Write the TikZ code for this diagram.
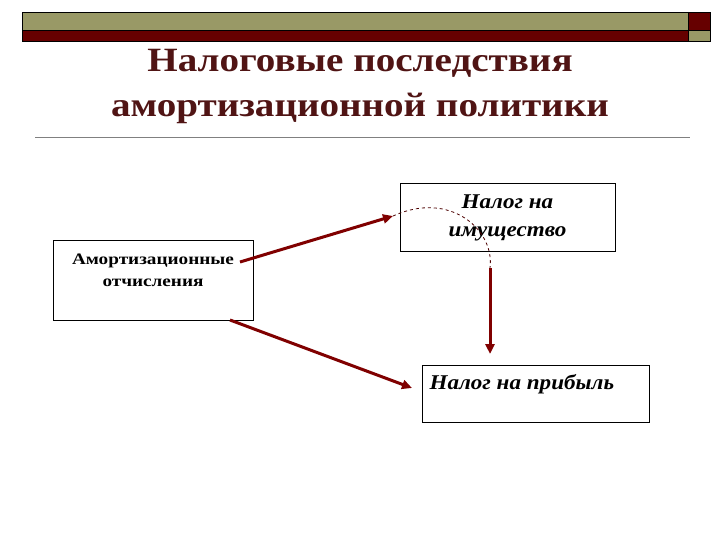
\documentclass[tikz,border=0pt]{standalone}
\usepackage{fontspec}
\setmainfont{Liberation Serif}
\usetikzlibrary{arrows.meta}
\definecolor{olive}{RGB}{153,153,102}
\definecolor{dred}{RGB}{102,0,0}
\definecolor{tred}{RGB}{80,20,20}
\definecolor{ared}{RGB}{128,0,0}
\begin{document}
\begin{tikzpicture}[x=1pt,y=-1pt,
  box/.style={draw,line width=1pt,inner sep=0pt},
  arr/.style={draw=ared,line width=3pt,-{Triangle[length=10pt,width=9pt]}},
  lbl/.style={font=\bfseries\itshape\fontsize{21}{28}\selectfont\addfontfeature{FakeStretch=1.1},align=center}]
\useasboundingbox (0,0) rectangle (720,540);
\fill[white] (0,0) rectangle (720,540);
\fill[olive] (22,12) rectangle (688,30);
\fill[dred] (22,30) rectangle (688,41);
\fill[dred] (688,12) rectangle (710,30);
\fill[olive] (688,30) rectangle (710,41);
\draw[line width=0.8pt] (22,12) rectangle (710,41) (22,30) -- (710,30) (688,12) -- (688,41);
\node[text=tred,font=\bfseries\fontsize{34}{45}\selectfont\addfontfeature{FakeStretch=1.15},align=center] (title) at (360,86) {Налоговые последствия\\амортизационной политики};
\draw[gray] (35,137) -- (690,137);
\node[box,minimum width=200pt,minimum height=80pt] (a) at (153,280) {};
\node[font=\bfseries\fontsize{16}{22}\selectfont\addfontfeature{FakeStretch=1.2},align=center] (at) at (153,270) {Амортизационные\\отчисления};
\node[box,minimum width=215pt,minimum height=67pt] (b) at (507.5,217.5) {};
\node[lbl] (bt) at (507.5,218) {Налог на\\имущество};
\node[box,minimum width=227pt,minimum height=57pt] (c) at (535.5,393.5) {};
\node[lbl,anchor=west] (ct) at (426,384) {Налог на прибыль};
\coordinate (p1) at (240,262);
\coordinate (p2) at (393,216);
\coordinate (p3) at (230,320);
\coordinate (p4) at (412,388);
\coordinate (p5) at (490,268);
\coordinate (p6) at (490,354);
\draw[arr] (p1) -- (p2);
\draw[arr] (p3) -- (p4);
\draw[arr] (p5) -- (p6);
\draw[ared!60!black,dashed,line width=0.8pt] (p2) .. controls (450,190) and (495,230) .. (p5);
\end{tikzpicture}
\end{document}
